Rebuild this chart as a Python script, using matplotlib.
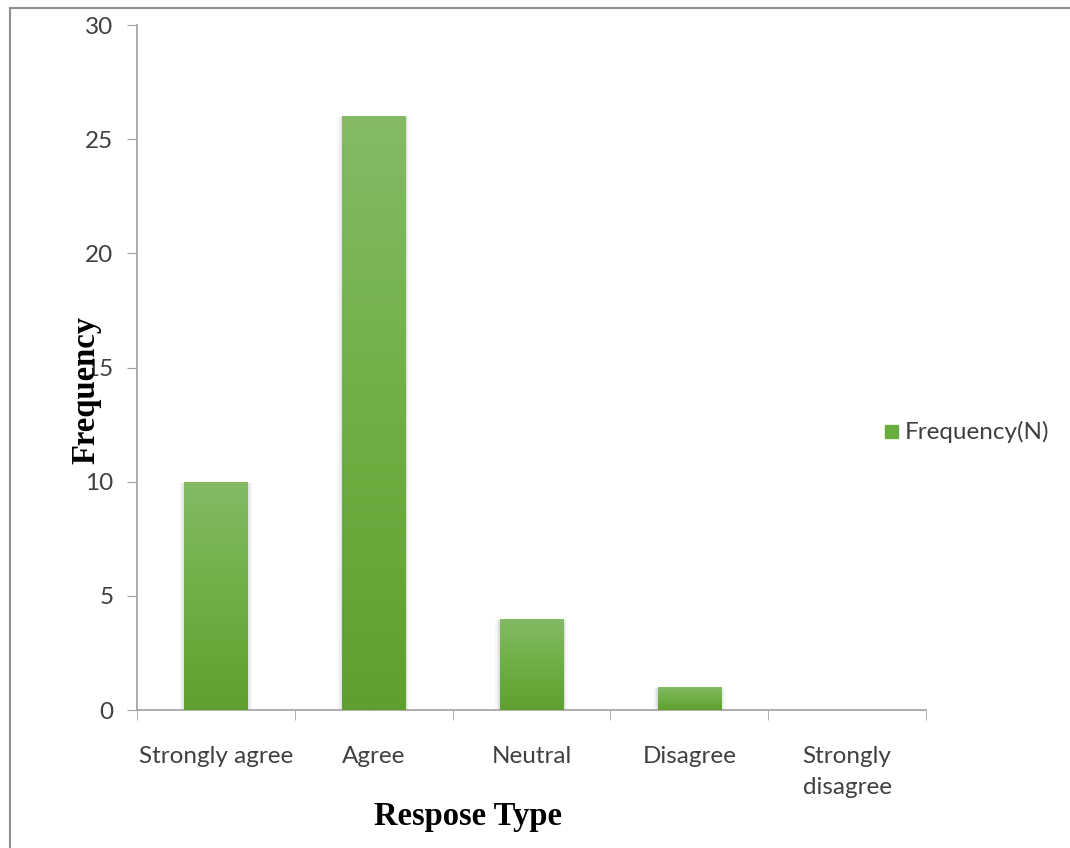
import matplotlib.pyplot as plt
import matplotlib.colors as mcolors
from matplotlib.lines import Line2D
from matplotlib.patches import Rectangle
import numpy as np

categories = ['Strongly agree', 'Agree', 'Neutral', 'Disagree', 'Strongly\ndisagree']
frequency = [10, 26, 4, 1, 0]
series_name = 'Frequency(N)'

plt.rcParams['font.family'] = ['Lato', 'DejaVu Sans']

fig = plt.figure(figsize=(10.7, 8.48), dpi=100)
ax = fig.add_axes([0.128, 0.1627, 0.7374, 0.8078])

x = np.arange(len(categories))
width = 0.4
bars = ax.bar(x, frequency, width, color='#6aad3f', zorder=3)

# vertical gradient and soft side shadow on each bar
grad = mcolors.LinearSegmentedColormap.from_list('g', ['#5e9f31', '#6eb043', '#84ba66'])
ramp = np.linspace(0, 1, 256).reshape(-1, 1)
for b in bars:
    h = b.get_height()
    if h <= 0:
        continue
    x0 = b.get_x()
    for k, a in enumerate([0.05, 0.08, 0.12]):
        off = 0.03 - k * 0.01
        ax.add_patch(Rectangle((x0 - off, 0), width + 2 * off, h - 0.05,
                               color='#808080', alpha=a, lw=0, zorder=2))
    im = ax.imshow(ramp, cmap=grad, origin='lower', aspect='auto',
                   extent=[x0, x0 + width, 0, h], zorder=3.5)
    im.set_clip_path(b)

ax.set_xlim(-0.5, len(categories) - 0.5)
ax.set_ylim(0, 30)
ax.set_yticks(range(0, 31, 5))
ax.set_xticks(x)
ax.set_xticklabels(categories, linespacing=1.6, ha='center', va='top')
ax.set_xticks(np.arange(-0.5, len(categories)), minor=True)
ax.tick_params(axis='x', which='major', length=0, pad=26, labelsize=17.5, colors='#404040')
ax.tick_params(axis='x', which='minor', length=7, color='#a0a0a0')
ax.tick_params(axis='y', length=7, color='#a0a0a0', labelsize=17.5, labelcolor='#404040', pad=10)
for s in ['top', 'right']:
    ax.spines[s].set_visible(False)
for s in ['left', 'bottom']:
    ax.spines[s].set_color('#a0a0a0')
    ax.spines[s].set_linewidth(1.2)

fig.text(0.437, 0.037, 'Respose Type', family='Liberation Serif', weight='bold',
         fontsize=23.5, ha='center', va='center')
fig.text(0.080, 0.54, 'Frequency', family='Liberation Serif', weight='bold',
         fontsize=23.5, ha='center', va='center', rotation=90)

# legend
fig.patches.append(Rectangle((0.8275, 0.4835), 0.012, 0.0153, color='#6aad3f',
                             transform=fig.transFigure))
fig.text(0.846, 0.491, series_name, fontsize=17.5, color='#404040', va='center')

# outer frame (left and top edges)
fig.add_artist(Line2D([0.0095, 0.0095], [0, 0.9905], color='#909090', lw=1.5))
fig.add_artist(Line2D([0.0095, 1], [0.9905, 0.9905], color='#909090', lw=1.5))

fig.savefig('out.png', dpi=100)
